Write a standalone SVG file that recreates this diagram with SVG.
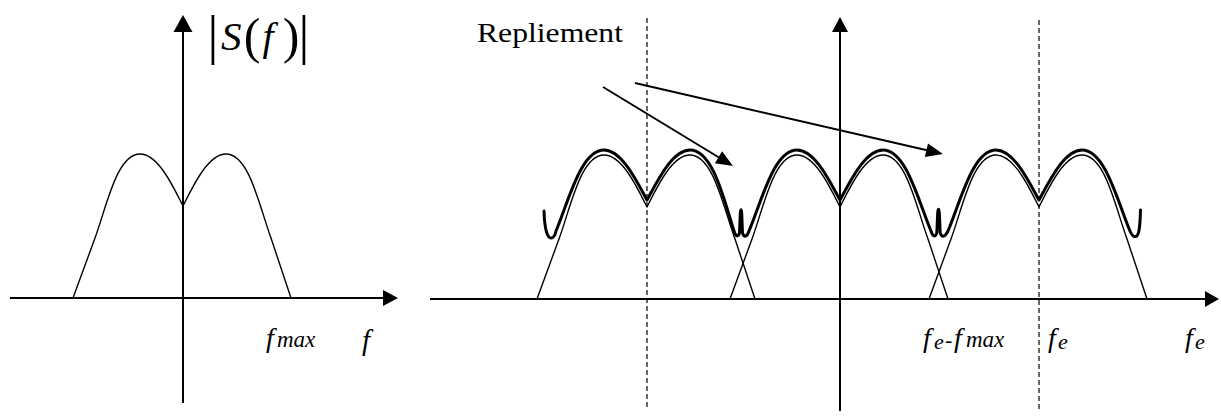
<svg xmlns="http://www.w3.org/2000/svg" width="1221" height="419" viewBox="0 0 1221 419">
<style>
.axis{stroke:#000;stroke-width:2;fill:none}
.head{fill:#000;stroke:none}
.thin{stroke:#000;stroke-width:1.4;fill:none;stroke-linejoin:round}
.thick{stroke:#000;stroke-width:3;fill:none;stroke-linejoin:round;stroke-linecap:round}
.dash{stroke:#000;stroke-width:1.2;stroke-dasharray:5,3;fill:none}
.lbl{font-family:"Liberation Serif","Times New Roman",serif;fill:#000}
.it{font-style:italic}
</style>
<defs>
<path id="spec" d="M-110,0 L-88,-60 C-76,-93 -66,-144 -43,-144 C-25,-144 -10,-112 0,-92 C10,-112 25,-144 43,-144 C66,-144 76,-93 88,-60 L108,0"/>
</defs>

<g id="left-plot">
  <line class="axis" x1="10" y1="298" x2="385" y2="298"/>
  <polygon class="head" points="398,298 383,290 383,306"/>
  <line class="axis" x1="183" y1="403" x2="183" y2="30"/>
  <polygon class="head" points="183,15 173.5,32 192.5,32"/>
  <use href="#spec" class="thin" transform="translate(183,298)"/>
</g>

<g id="left-labels">
  <text class="lbl" x="213" y="53" font-size="54" text-anchor="middle">|</text>
  <text class="lbl it" x="221" y="50" font-size="41">S</text>
  <text class="lbl" x="252" y="53" font-size="50" text-anchor="middle">(</text>
  <text class="lbl it" x="268" y="50" font-size="40" text-anchor="middle">f</text>
  <text class="lbl" x="291" y="53" font-size="50" text-anchor="middle">)</text>
  <text class="lbl" x="304" y="53" font-size="54" text-anchor="middle">|</text>
  <text class="lbl it" y="347"><tspan x="266" font-size="28">f</tspan><tspan x="277" font-size="23">max</tspan></text>
  <text class="lbl it" x="362" y="350" font-size="29">f</text>
</g>

<g id="right-plot">
  <line class="axis" x1="430" y1="299" x2="1207" y2="299"/>
  <polygon class="head" points="1219,299 1205,291 1205,307"/>
  <line class="axis" x1="840" y1="411" x2="840" y2="30"/>
  <polygon class="head" points="840,17 832,32 848,32"/>
  <line class="dash" x1="647" y1="18" x2="647" y2="410"/>
  <line class="dash" x1="1039" y1="20" x2="1039" y2="410"/>
  <use href="#spec" class="thin" transform="translate(647,299)"/>
  <use href="#spec" class="thin" transform="translate(840,299)"/>
  <use href="#spec" class="thin" transform="translate(1039,299)"/>
</g>

<g id="aliased-sum">
  <path class="thick" d="M544,211 C544.5,228 547,238 551,238 C553,238 555,236 556,231
    C569,200 581,150 604,150 C622,150 637,182 647,200 C657,182 672,150 690,150
    C713,150 724,200 734,231
    C735.5,236 738,238 739.5,233 L740.3,213 C740.6,208.5 741.4,208.5 741.7,213 L742.5,233 C744,238 747,237 749,231
    C762,200 774,150 797,150 C815,150 830,182 840,200 C850,182 865,150 883,150
    C906,150 918,200 931,231
    C932.5,236 935,238 936.8,233 L937.7,213 C938,208 939,208 939.3,213 L940.2,233 C942,238 945,237 948,231
    C961,200 973,150 996,150 C1014,150 1029,182 1039,200 C1049,182 1064,150 1082,150
    C1105,150 1117,200 1130,231
    C1132,236 1134,237 1136,236.5 C1139,235.5 1140,228 1140.5,210"/>
</g>

<g id="right-labels">
  <text class="lbl" x="477" y="42" font-size="28" textLength="146" lengthAdjust="spacingAndGlyphs">Repliement</text>
  <text class="lbl it" y="347"><tspan x="923" font-size="28">f</tspan><tspan x="934" y="349" font-size="22">e</tspan><tspan x="945" y="347" font-size="22" font-style="normal">-</tspan><tspan x="954" font-size="28">f</tspan><tspan x="966" font-size="23">max</tspan></text>
  <text class="lbl it" y="347"><tspan x="1048" font-size="28">f</tspan><tspan x="1058" y="349" font-size="22">e</tspan></text>
  <text class="lbl it" y="347"><tspan x="1185" font-size="28">f</tspan><tspan x="1195" y="349" font-size="22">e</tspan></text>
</g>

<g id="connectors">
  <line class="axis" x1="603" y1="87" x2="719" y2="157.5"/>
  <polygon class="head" points="733,166 714.9,163.2 722.1,151.2"/>
  <line class="axis" x1="635" y1="83" x2="927" y2="150.3"/>
  <polygon class="head" points="943,154 924.8,157 928,143.4"/>
</g>
</svg>
